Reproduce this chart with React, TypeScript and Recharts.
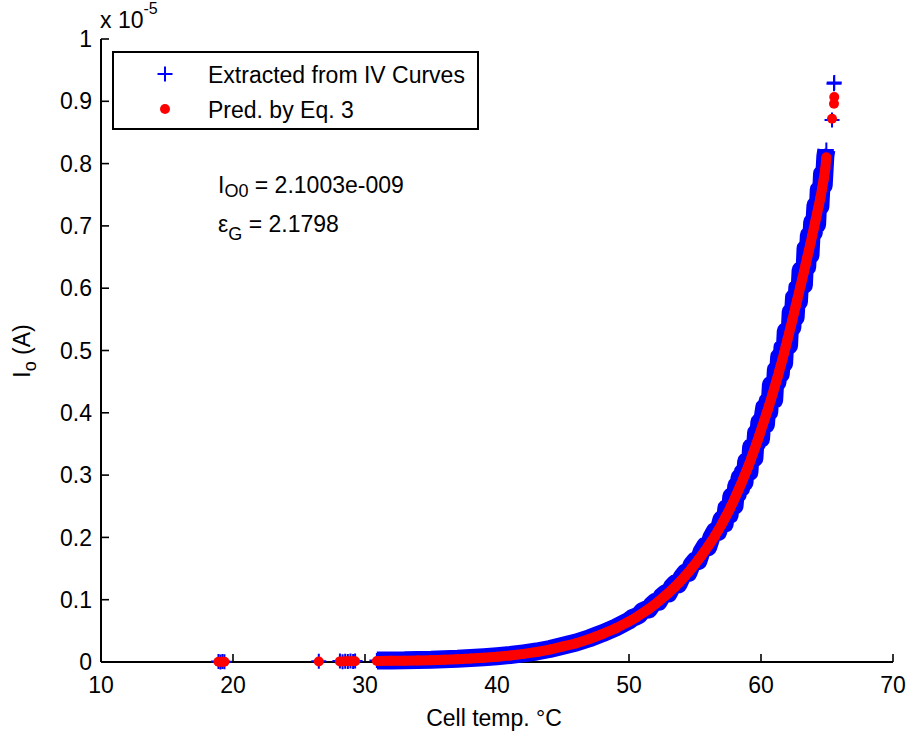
import { ComposedChart, XAxis, YAxis, Scatter } from 'recharts';

const FONT = '"Liberation Sans", Arial, Helvetica, sans-serif';

// cell temperature (°C) shared by both series
const cellTemp = [
  18.9, 19.05, 19.2, 19.35,
  26.5,
  28.1, 28.3, 28.5, 28.7, 28.9, 29.1, 29.25,
  30.9, 32, 33, 34, 35, 36, 37, 38, 39, 40,
  41, 42, 43, 44, 45, 46, 47, 48, 49, 50,
  50.25, 50.5, 50.75, 51, 51.25, 51.5, 51.75, 52, 52.25, 52.5,
  52.75, 53, 53.25, 53.5, 53.75, 54, 54.25, 54.5, 54.75, 55,
  55.25, 55.5, 55.75, 56, 56.25, 56.5, 56.75, 57,
  57.125, 57.25, 57.375, 57.5, 57.625, 57.75, 57.875, 58,
  58.125, 58.25, 58.375, 58.5, 58.625, 58.75, 58.875, 59,
  59.125, 59.25, 59.375, 59.5, 59.625, 59.75, 59.875, 60,
  60.125, 60.25, 60.375, 60.5, 60.625, 60.75, 60.875, 61,
  61.125, 61.25, 61.375, 61.5, 61.625, 61.75, 61.875, 62,
  62.125, 62.25, 62.375, 62.5, 62.625, 62.75, 62.875, 63,
  63.125, 63.25, 63.375, 63.5, 63.625, 63.75, 63.875, 64,
  64.125, 64.25, 64.375, 64.5, 64.625, 64.75, 64.875, 64.95,
];

// Io in units of 1e-5 A
const extractedIo = [
  0.0009, 0.0002, 0.0007, 0.0003,
  0.0012,
  0.0016, 0.0006, 0.0014, 0.0008, 0.0017, 0.0009, 0.0015,
  0.0024, 0.0026, 0.0027, 0.0034, 0.0036, 0.0044, 0.0051, 0.0063, 0.0076, 0.0093,
  0.0112, 0.0138, 0.0168, 0.0209, 0.026, 0.0312, 0.0381, 0.0462, 0.0553, 0.0664,
  0.0705, 0.0728, 0.0752, 0.0812, 0.0838, 0.0842, 0.0921, 0.0968, 0.0966, 0.1058,
  0.1102, 0.1098, 0.1205, 0.1262, 0.1248, 0.1365, 0.1432, 0.1428, 0.1562, 0.1625,
  0.1618, 0.1772, 0.1858, 0.1842, 0.2005, 0.2098, 0.2085, 0.2285,
  0.231, 0.222, 0.247, 0.244, 0.236, 0.266, 0.259, 0.251,
  0.283, 0.27, 0.296, 0.279, 0.305, 0.288, 0.322, 0.318,
  0.305, 0.345, 0.331, 0.327, 0.368, 0.352, 0.385, 0.358,
  0.392, 0.409, 0.381, 0.419, 0.401, 0.445, 0.434, 0.421,
  0.469, 0.449, 0.49, 0.462, 0.505, 0.479, 0.531, 0.522,
  0.508, 0.562, 0.537, 0.585, 0.553, 0.601, 0.578, 0.629,
  0.622, 0.605, 0.664, 0.634, 0.685, 0.653, 0.706, 0.689,
  0.733, 0.702, 0.758, 0.731, 0.784, 0.765, 0.812, 0.822,
];

const predictedIo = [
  0.0004, 0.0004, 0.0005, 0.0005,
  0.0009,
  0.001, 0.001, 0.0011, 0.0011, 0.0012, 0.0012, 0.0013,
  0.0016, 0.0019, 0.0022, 0.0026, 0.003, 0.0037, 0.0045, 0.0055, 0.007, 0.0085,
  0.0105, 0.013, 0.016, 0.02, 0.025, 0.03, 0.037, 0.045, 0.054, 0.065,
  0.068, 0.071, 0.0745, 0.078, 0.0815, 0.085, 0.089, 0.093, 0.0975, 0.102,
  0.1065, 0.111, 0.116, 0.121, 0.1265, 0.132, 0.138, 0.144, 0.1505, 0.157,
  0.164, 0.171, 0.1785, 0.186, 0.194, 0.202, 0.211, 0.22,
  0.225, 0.23, 0.235, 0.24, 0.245, 0.251, 0.256, 0.262,
  0.268, 0.274, 0.28, 0.286, 0.2925, 0.299, 0.3055, 0.312,
  0.319, 0.326, 0.3335, 0.341, 0.3485, 0.356, 0.364, 0.372,
  0.38, 0.388, 0.396, 0.404, 0.4125, 0.421, 0.43, 0.439,
  0.448, 0.457, 0.4665, 0.476, 0.486, 0.496, 0.5065, 0.517,
  0.5275, 0.538, 0.549, 0.56, 0.571, 0.582, 0.593, 0.604,
  0.615, 0.626, 0.6375, 0.649, 0.6605, 0.672, 0.684, 0.696,
  0.708, 0.72, 0.7325, 0.745, 0.76, 0.775, 0.792, 0.81,
];

// isolated points at the top end
const outlierTemp = [65.38, 65.53, 65.55];
const outlierExtracted = [0.87, 0.928, 0.93];
const outlierPredicted = [0.872, 0.896, 0.907];

const xTicks = [10, 20, 30, 40, 50, 60, 70];
const yTicks = [0, 0.1, 0.2, 0.3, 0.4, 0.5, 0.6, 0.7, 0.8, 0.9, 1];

type Pt = { t: number; v: number };

const toPoints = (ts: number[], vs: number[]): Pt[] => ts.map((t, i) => ({ t, v: vs[i] }));

// split into runs wherever there is a gap in temperature
function splitRuns(pts: Pt[]): Pt[][] {
  const runs: Pt[][] = [];
  pts.forEach((p, i) => {
    if (i === 0 || p.t - pts[i - 1].t > 1.5) runs.push([]);
    runs[runs.length - 1].push(p);
  });
  return runs;
}

const extractedRuns = splitRuns(toPoints(cellTemp, extractedIo));
const predictedRuns = splitRuns(toPoints(cellTemp, predictedIo));
const extractedOut = toPoints(outlierTemp, outlierExtracted);
const predictedOut = toPoints(outlierTemp, outlierPredicted);

const BLUE = '#0000ff';
const RED = '#ff0000';

const Cross = (p: any) => {
  const { cx, cy } = p;
  if (cx == null || cy == null) return null;
  return (
    <path
      d={`M${cx - 7.5},${cy}H${cx + 7.5}M${cx},${cy - 7.5}V${cy + 7.5}`}
      stroke={BLUE}
      strokeWidth={2}
      fill="none"
    />
  );
};

const Dot = (p: any) => {
  const { cx, cy } = p;
  if (cx == null || cy == null) return null;
  return <circle cx={cx} cy={cy} r={5} fill={RED} />;
};

const tickStyle = { fill: '#000', fontSize: 23, fontFamily: FONT };
const axisLine = { stroke: '#000', strokeWidth: 2 };
const tickLine = { stroke: '#000', strokeWidth: 1.6 };

export default function App() {
  return (
    <div style={{ position: 'absolute', left: 0, top: 0, width: 909, height: 733, background: '#fff', fontFamily: FONT }}>
      <ComposedChart width={909} height={733} margin={{ top: 39, right: 16, bottom: 31, left: 41 }}>
        <XAxis
          type="number"
          dataKey="t"
          domain={[10, 70]}
          ticks={xTicks}
          interval={0}
          height={40}
          tickSize={-8}
          tickMargin={23}
          axisLine={axisLine}
          tickLine={tickLine}
          tick={tickStyle}
        />
        <XAxis
          xAxisId="top"
          orientation="top"
          type="number"
          dataKey="t"
          domain={[10, 70]}
          ticks={xTicks}
          interval={0}
          height={0}
          tickSize={-8}
          axisLine={axisLine}
          tickLine={tickLine}
          tickFormatter={() => ''}
        />
        <YAxis
          type="number"
          dataKey="v"
          domain={[0, 1]}
          ticks={yTicks}
          interval={0}
          width={60}
          tickSize={-8}
          tickMargin={17}
          axisLine={axisLine}
          tickLine={tickLine}
          tick={tickStyle}
          tickFormatter={(v: number) => String(v)}
        />
        <YAxis
          yAxisId="right"
          orientation="right"
          type="number"
          dataKey="v"
          domain={[0, 1]}
          ticks={yTicks}
          interval={0}
          width={0}
          tickSize={-8}
          axisLine={axisLine}
          tickLine={tickLine}
          tickFormatter={() => ''}
        />

        {extractedRuns.map((run, i) => (
          <Scatter
            key={'e' + i}
            name="Extracted from IV Curves"
            data={run}
            dataKey="v"
            shape={Cross}
            line={run.length > 10 ? { stroke: BLUE, strokeWidth: 18, strokeLinejoin: 'round' } : false}
            isAnimationActive={false}
          />
        ))}
        <Scatter data={extractedOut} dataKey="v" shape={Cross} isAnimationActive={false} />

        {predictedRuns.map((run, i) => (
          <Scatter
            key={'p' + i}
            name="Pred. by Eq. 3"
            data={run}
            dataKey="v"
            shape={Dot}
            line={run.length > 10 ? { stroke: RED, strokeWidth: 10, strokeLinejoin: 'round' } : false}
            isAnimationActive={false}
          />
        ))}
        <Scatter data={predictedOut} dataKey="v" shape={Dot} isAnimationActive={false} />
      </ComposedChart>

      <svg width={909} height={733} style={{ position: 'absolute', left: 0, top: 0, pointerEvents: 'none' }} fontFamily={FONT} fontSize={23} fill="#000">
        <text x={100} y={28}>
          x 10<tspan fontSize={16} dy={-14}>-5</tspan>
        </text>

        {/* legend */}
        <rect x={113} y={52} width={365} height={77} fill="#fff" stroke="#000" strokeWidth={2} />
        <path d="M157.5,74H172.5M165,66.5V81.5" stroke={BLUE} strokeWidth={2} fill="none" />
        <text x={208} y={83}>Extracted from IV Curves</text>
        <circle cx={165} cy={109} r={5} fill={RED} />
        <text x={208} y={118}>Pred. by Eq. 3</text>

        {/* fit parameters */}
        <text x={218} y={193}>
          I<tspan fontSize={18} dy={4}>O0</tspan>
          <tspan dy={-4}> = 2.1003e-009</tspan>
        </text>
        <text x={218} y={232}>
          ε<tspan fontSize={18} dy={8}>G</tspan>
          <tspan dy={-8}> = 2.1798</tspan>
        </text>

        <text x={494} y={726} textAnchor="middle">Cell temp. °C</text>
        <text transform="translate(30,351) rotate(-90)" textAnchor="middle">
          I<tspan fontSize={18} dy={6}>o</tspan>
          <tspan dy={-6}> (A)</tspan>
        </text>
      </svg>
    </div>
  );
}
